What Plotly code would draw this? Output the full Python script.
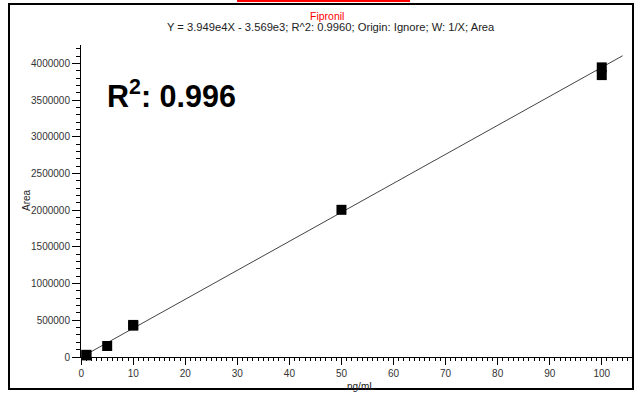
import plotly.graph_objects as go

# Data
conc = [1, 1, 5, 10, 10, 50, 100, 100]
area = [22000, 30000, 150000, 427000, 437000, 2005000, 3840000, 3945000]
slope = 3.949e4
intercept = -3.569e3
fit_x = [0.3, 104]
fit_y = [slope * x + intercept for x in fit_x]

W, H = 636, 393
L, R, T, B = 81, 3, 45, 36
pw, ph = W - L - R, H - T - B

def px(x):
    return (x - L) / pw

def py(y):
    return (H - B - y) / ph

FONT = "Liberation Sans, Arial, sans-serif"

fig = go.Figure()
fig.add_trace(go.Scatter(x=fit_x, y=fit_y, mode="lines",
                         line=dict(color="#444444", width=1), hoverinfo="skip",
                         showlegend=False))
fig.add_trace(go.Scatter(x=conc, y=area, mode="markers",
                         marker=dict(symbol="square", size=10, color="black"),
                         cliponaxis=False, showlegend=False))

fig.update_layout(
    width=W, height=H,
    margin=dict(l=L, r=R, t=T, b=B),
    paper_bgcolor="white", plot_bgcolor="white",
    font=dict(family=FONT, size=10, color="#222222"),
    xaxis=dict(range=[-0.03, 106], dtick=10, tick0=0, showgrid=False, zeroline=False,
               showline=True, linecolor="black", linewidth=1,
               ticks="outside", ticklen=7, tickcolor="black",
               minor=dict(dtick=1, ticklen=3, ticks="outside", tickcolor="black", showgrid=False),
               tickfont=dict(size=10, color="#333333")),
    yaxis=dict(range=[0, 4.25e6], dtick=500000, tick0=0, showgrid=False, zeroline=False,
               showline=True, linecolor="black", linewidth=1,
               ticks="outside", ticklen=8, tickcolor="black",
               minor=dict(dtick=100000, ticklen=4, ticks="outside", tickcolor="black", showgrid=False),
               tickfont=dict(size=10, color="#333333"), tickformat="d"),
)

fig.add_annotation(text="Fipronil", x=px(327), y=py(16), xref="paper", yref="paper",
                   showarrow=False, font=dict(size=10.5, color="red", family=FONT),
                   xanchor="center", yanchor="middle")
fig.add_annotation(text="Y = 3.949e4X - 3.569e3; R^2: 0.9960; Origin: Ignore; W: 1/X; Area",
                   x=px(331), y=py(27.5), xref="paper", yref="paper",
                   showarrow=False, font=dict(size=11.2, color="#222222", family=FONT),
                   xanchor="center", yanchor="middle")
fig.add_annotation(text="<b>R<sup>2</sup>: 0.996</b>", x=px(105), y=py(94), xref="paper", yref="paper",
                   showarrow=False, font=dict(size=30.5, color="black", family=FONT),
                   xanchor="left", yanchor="middle")
fig.add_annotation(text="Area", x=px(26), y=py(200), xref="paper", yref="paper",
                   showarrow=False, textangle=-90, font=dict(size=10, color="#222222", family=FONT),
                   xanchor="center", yanchor="middle")
fig.add_annotation(text="ng/mL", x=px(361), y=py(386), xref="paper", yref="paper",
                   showarrow=False, font=dict(size=10, color="#222222", family=FONT),
                   xanchor="center", yanchor="middle")

# outer frame and red edge at top
fig.add_shape(type="rect", xref="paper", yref="paper",
              x0=px(9), x1=px(633), y0=py(389), y1=py(4),
              line=dict(color="black", width=2))
fig.add_shape(type="line", xref="paper", yref="paper",
              x0=px(237), x1=px(410), y0=py(1), y1=py(1),
              line=dict(color="red", width=2))

fig.write_html("out.html", config={"displayModeBar": False},
               post_script="document.body.style.margin='0';document.body.style.overflow='hidden';")
